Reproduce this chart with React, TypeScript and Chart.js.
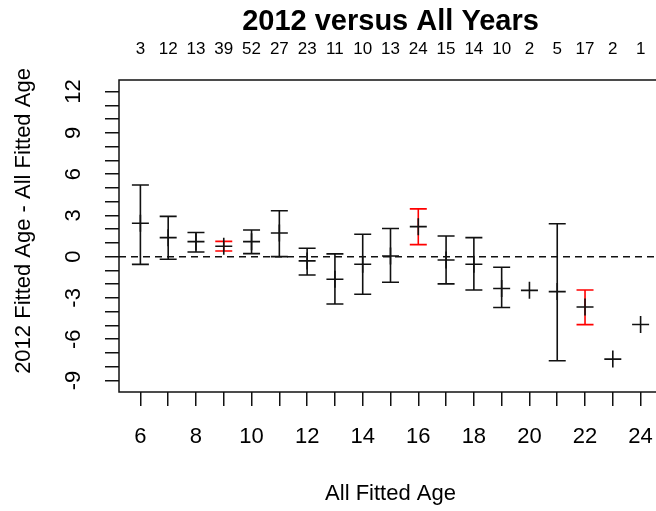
import React, { useEffect, useRef } from 'react';
import { Chart, registerables } from 'chart.js';

Chart.register(...registerables);

// ---- data ----
const ages = [6, 7, 8, 9, 10, 11, 12, 13, 14, 15, 16, 17, 18, 19, 20, 21, 22, 23, 24];
const counts = [3, 12, 13, 39, 52, 27, 23, 11, 10, 13, 24, 15, 14, 10, 2, 5, 17, 2, 1];
const means = [2.43, 1.38, 1.09, 0.75, 1.09, 1.72, -0.31, -1.64, -0.55, 0.05, 2.18, -0.24, -0.55, -2.32, -2.45, -2.54, -3.66, -7.45, -4.93];
const lowers: (number | null)[] = [-0.56, -0.19, 0.34, 0.41, 0.22, 0.0, -1.33, -3.44, -2.73, -1.86, 0.87, -1.98, -2.42, -3.7, null, -7.57, -4.94, null, null];
const uppers: (number | null)[] = [5.21, 2.93, 1.75, 1.11, 1.94, 3.34, 0.61, 0.2, 1.63, 2.04, 3.47, 1.5, 1.38, -0.77, null, 2.39, -2.42, null, null];
const highlightedAges = [9, 16, 22];

const xTickValues = [6, 7, 8, 9, 10, 11, 12, 13, 14, 15, 16, 17, 18, 19, 20, 21, 22, 23, 24];
const xTickLabels = [6, 8, 10, 12, 14, 16, 18, 20, 22, 24];
const yTickValues = [-9, -8, -7, -6, -5, -4, -3, -2, -1, 0, 1, 2, 3, 4, 5, 6, 7, 8, 9, 10, 11, 12];
const yTickLabels = [-9, -6, -3, 0, 3, 6, 9, 12];

const X_MIN = 5.23;
const X_MAX = 24.77;
const Y_MIN = -9.84;
const Y_MAX = 12.84;

const FONT = "'Liberation Sans', Arial, sans-serif";
const INK = '#111111';

const errorBarPlugin = {
  id: 'errorBars',
  beforeDatasetsDraw(chart: any) {
    const { ctx, scales } = chart;
    const x = scales.x;
    const y = scales.y;
    ctx.save();
    ctx.lineWidth = 1.6;
    ages.forEach((a, i) => {
      const lo = lowers[i];
      const hi = uppers[i];
      if (lo == null || hi == null) return;
      const px = x.getPixelForValue(a);
      const pl = y.getPixelForValue(lo);
      const ph = y.getPixelForValue(hi);
      ctx.strokeStyle = highlightedAges.includes(a) ? '#ff0000' : INK;
      ctx.beginPath();
      ctx.moveTo(px, ph);
      ctx.lineTo(px, pl);
      ctx.moveTo(px - 8.5, ph);
      ctx.lineTo(px + 8.5, ph);
      ctx.moveTo(px - 8.5, pl);
      ctx.lineTo(px + 8.5, pl);
      ctx.stroke();
    });
    ctx.restore();
  },
};

const boxPlugin = {
  id: 'frameBox',
  afterDraw(chart: any) {
    const { ctx, chartArea } = chart;
    ctx.save();
    ctx.strokeStyle = INK;
    ctx.lineWidth = 1.5;
    ctx.strokeRect(chartArea.left, chartArea.top, chartArea.right - chartArea.left, chartArea.bottom - chartArea.top);
    // y axis title
    ctx.fillStyle = '#000';
    ctx.font = `22px ${FONT}`;
    ctx.textAlign = 'center';
    ctx.textBaseline = 'middle';
    ctx.translate(24, 221);
    ctx.rotate(-Math.PI / 2);
    ctx.fillText('2012 Fitted Age - All Fitted Age', 0, 0);
    ctx.restore();
  },
};

export default function App() {
  const canvasRef = useRef<HTMLCanvasElement | null>(null);

  useEffect(() => {
    if (!canvasRef.current) return;
    Chart.defaults.font.family = FONT;
    Chart.defaults.color = '#000';

    const chart = new Chart(canvasRef.current, {
      type: 'scatter',
      data: {
        datasets: [
          {
            type: 'scatter',
            label: 'mean',
            data: ages.map((a, i) => ({ x: a, y: means[i] })),
            pointStyle: 'cross',
            pointRadius: 8.5,
            pointHoverRadius: 8.5,
            borderColor: INK,
            backgroundColor: INK,
            borderWidth: 1.6,
            clip: false,
            xAxisID: 'x',
            yAxisID: 'y',
          } as any,
          {
            type: 'line',
            label: 'zero',
            data: [
              { x: X_MIN, y: 0 },
              { x: X_MAX, y: 0 },
            ],
            borderColor: INK,
            borderWidth: 1.5,
            borderDash: [7, 5],
            pointRadius: 0,
            fill: false,
            xAxisID: 'x',
            yAxisID: 'y',
          } as any,
        ],
      },
      options: {
        animation: false,
        responsive: false,
        devicePixelRatio: 1,
        events: [],
        layout: { padding: 0, autoPadding: false },
        plugins: {
          legend: { display: false },
          tooltip: { enabled: false },
          title: { display: false },
        },
        scales: {
          x: {
            type: 'linear',
            position: 'bottom',
            min: X_MIN,
            max: X_MAX,
            afterBuildTicks: (s: any) => {
              s.ticks = xTickValues.map((v) => ({ value: v }));
            },
            afterFit: (s: any) => {
              s.height = 119;
            },
            grid: { drawOnChartArea: false, drawTicks: true, tickLength: 14, color: INK, lineWidth: 1.5 },
            border: { display: false },
            ticks: {
              autoSkip: false,
              maxRotation: 0,
              minRotation: 0,
              padding: 0,
              color: '#000',
              font: { family: FONT, size: 22, lineHeight: 2.836 },
              callback: (v: any) => (xTickLabels.includes(Number(v)) ? String(v) : ''),
            },
            title: {
              display: true,
              text: 'All Fitted Age',
              color: '#000',
              font: { family: FONT, size: 22 },
              padding: { top: 0, bottom: 4 },
            },
          },
          x2: {
            type: 'linear',
            position: 'top',
            min: X_MIN,
            max: X_MAX,
            afterBuildTicks: (s: any) => {
              s.ticks = xTickValues.map((v) => ({ value: v }));
            },
            afterFit: (s: any) => {
              s.height = 80;
            },
            grid: { display: false, drawTicks: false, drawOnChartArea: false },
            border: { display: false },
            ticks: {
              autoSkip: false,
              maxRotation: 0,
              minRotation: 0,
              padding: 0,
              color: '#000',
              font: { family: FONT, size: 17, lineHeight: 3.59 },
              callback: (v: any) => {
                const i = ages.indexOf(Number(v));
                return i >= 0 ? String(counts[i]) : '';
              },
            },
            title: {
              display: true,
              text: '2012 versus All Years',
              color: '#000',
              font: { family: FONT, size: 29, weight: 'bold' },
              padding: { top: 5, bottom: 0 },
            },
          },
          y: {
            type: 'linear',
            position: 'left',
            min: Y_MIN,
            max: Y_MAX,
            afterBuildTicks: (s: any) => {
              s.ticks = yTickValues.map((v) => ({ value: v }));
            },
            afterFit: (s: any) => {
              s.width = 119;
            },
            grid: { drawOnChartArea: false, drawTicks: true, tickLength: 14, color: INK, lineWidth: 1.5 },
            border: { display: false },
            ticks: {
              autoSkip: false,
              minRotation: 90,
              maxRotation: 90,
              crossAlign: 'center',
              padding: 19,
              color: '#000',
              font: { family: FONT, size: 22 },
              callback: (v: any) => (yTickLabels.includes(Number(v)) ? String(v) : ''),
            },
          },
        },
      } as any,
      plugins: [errorBarPlugin, boxPlugin],
    });

    return () => {
      chart.destroy();
    };
  }, []);

  return (
    <div
      style={{
        position: 'fixed',
        left: 0,
        top: 0,
        width: 656,
        height: 511,
        overflow: 'hidden',
        background: '#fff',
      }}
    >
      <canvas ref={canvasRef} width={662} height={511} style={{ width: 662, height: 511, display: 'block' }} />
    </div>
  );
}
